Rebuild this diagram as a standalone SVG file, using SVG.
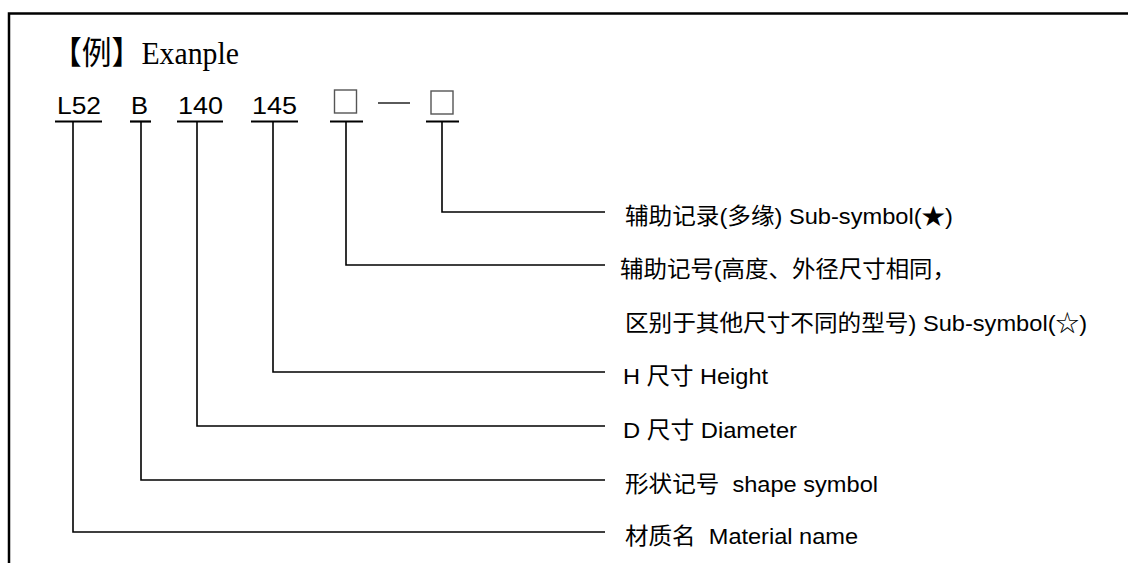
<svg xmlns="http://www.w3.org/2000/svg" width="1128" height="563" viewBox="0 0 1128 563">
<style>
.t{font-family:"Liberation Sans","Noto Sans CJK SC",sans-serif;font-size:22.5px;fill:#000;white-space:pre}
.k{font-family:"Liberation Sans",sans-serif;font-size:24px;fill:#000}
.c{fill:none;stroke:#000;stroke-width:1.6}
.u{stroke:#000;stroke-width:2.2}
.b{fill:none;stroke:#555;stroke-width:1.4}
</style>
<rect width="1128" height="563" fill="#fff"/>
<g id="frame"><path d="M9 563 V13.5 H1128" fill="none" stroke="#000" stroke-width="2.5"/></g>
<g id="title"><text x="52" y="64" style="font-family:'Liberation Serif','Noto Sans CJK SC',serif;font-size:32px" textLength="187" lengthAdjust="spacingAndGlyphs">【例】Exanple</text></g>
<g id="code">
<text class="k" x="57" y="114" textLength="44" lengthAdjust="spacingAndGlyphs">L52</text>
<text class="k" x="131" y="114" textLength="17" lengthAdjust="spacingAndGlyphs">B</text>
<text class="k" x="178" y="114" textLength="45" lengthAdjust="spacingAndGlyphs">140</text>
<text class="k" x="252" y="114" textLength="45" lengthAdjust="spacingAndGlyphs">145</text>
<rect class="b" x="334.5" y="90" width="22" height="23"/>
<line x1="378" y1="103" x2="410" y2="103" stroke="#000" stroke-width="1.3"/>
<rect class="b" x="431" y="91" width="22" height="23"/>
<line class="u" x1="55" y1="121.5" x2="102" y2="121.5"/>
<line class="u" x1="130" y1="121.5" x2="151" y2="121.5"/>
<line class="u" x1="177" y1="121.5" x2="223" y2="121.5"/>
<line class="u" x1="251" y1="121.5" x2="298" y2="121.5"/>
<line class="u" x1="330" y1="121.5" x2="363" y2="121.5"/>
<line class="u" x1="426" y1="121.5" x2="459" y2="121.5"/>
</g>
<g id="connectors">
<path class="c" d="M442 121 V212 H605"/>
<path class="c" d="M346 121 V265 H605"/>
<path class="c" d="M273 121 V372 H605"/>
<path class="c" d="M197 121 V426 H605"/>
<path class="c" d="M141 121 V480 H605"/>
<path class="c" d="M73 121 V532 H605"/>
</g>
<g id="label-sub1"><text class="t" x="625" y="224" textLength="328" lengthAdjust="spacingAndGlyphs">辅助记录(多缘) Sub-symbol(★)</text></g>
<g id="label-sub2">
<text class="t" x="620" y="277" textLength="336" lengthAdjust="spacingAndGlyphs">辅助记号(高度、外径尺寸相同，</text>
<text class="t" x="625" y="331" textLength="462" lengthAdjust="spacingAndGlyphs">区别于其他尺寸不同的型号) Sub-symbol(☆)</text>
</g>
<g id="label-h"><text class="t" x="623" y="384" textLength="145" lengthAdjust="spacingAndGlyphs">H 尺寸 Height</text></g>
<g id="label-d"><text class="t" x="623" y="438" textLength="174" lengthAdjust="spacingAndGlyphs">D 尺寸 Diameter</text></g>
<g id="label-shape"><text class="t" x="625" y="492" textLength="253" lengthAdjust="spacingAndGlyphs">形状记号  shape symbol</text></g>
<g id="label-mat"><text class="t" x="625" y="544" textLength="233" lengthAdjust="spacingAndGlyphs">材质名  Material name</text></g>
</svg>
